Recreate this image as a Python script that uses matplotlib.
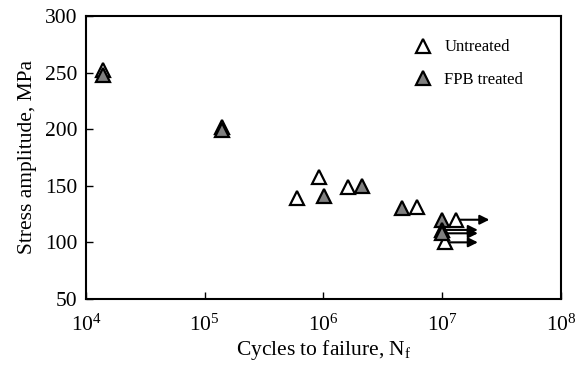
import matplotlib
matplotlib.use('Agg')
import matplotlib.pyplot as plt

# untreated specimens
untreated_n = [1.4e4, 1.4e5, 6.0e5, 9.1e5, 1.6e6, 6.1e6]
untreated_s = [252, 202, 139, 158, 149, 131]
# treated specimens
treated_n = [1.4e4, 1.4e5, 1.02e6, 2.1e6, 4.6e6, 1.0e7]
treated_s = [248, 199, 141, 150, 130, 120]

# run-outs (no failure): start cycles, stress, arrow end
runout_untreated_n = [1.3e7, 1.05e7]
runout_untreated_s = [120, 100]
runout_untreated_end = [2.5e7, 2.0e7]
runout_treated_n = [1.0e7, 1.0e7]
runout_treated_s = [111, 108]
runout_treated_end = [2.0e7, 2.0e7]

plt.rcParams['font.family'] = 'Liberation Serif'
plt.rcParams['mathtext.fontset'] = 'stix'

fig = plt.figure(figsize=(5.77, 3.65), dpi=100)
ax = fig.add_axes([0.149, 0.181, 0.823, 0.775])

for x0, y, x1 in zip(runout_untreated_n + runout_treated_n,
                     runout_untreated_s + runout_treated_s,
                     runout_untreated_end + runout_treated_end):
    ax.annotate('', xy=(x1, y), xytext=(x0, y),
                arrowprops=dict(arrowstyle='-|>', color='black', lw=1.5,
                                mutation_scale=14, shrinkA=0, shrinkB=0))

ax.plot(untreated_n + runout_untreated_n, untreated_s + runout_untreated_s, '^', ms=10.5,
        mfc='white', mec='black', mew=1.6, label='Untreated', ls='none', zorder=3)
ax.plot(treated_n + runout_treated_n, treated_s + runout_treated_s, '^', ms=10.5,
        mfc='#808080', mec='black', mew=1.6, label='FPB treated', ls='none', zorder=4)

ax.set_xscale('log')
ax.set_xlim(1e4, 1e8)
ax.set_ylim(50, 300)
ax.set_yticks([50, 100, 150, 200, 250, 300])
ax.set_xticks([1e4, 1e5, 1e6, 1e7, 1e8])
ax.minorticks_off()
ax.tick_params(direction='in', length=5, width=1, labelsize=15.5, pad=6)
ax.tick_params(axis='x', pad=11)
for sp in ax.spines.values():
    sp.set_linewidth(1.5)

ax.set_xlabel('Cycles to failure, N$_\\mathregular{f}$', fontsize=15.5, labelpad=2)
ax.set_ylabel('Stress amplitude, MPa', fontsize=15.5, labelpad=6)

ax.legend(loc='upper right', frameon=False, fontsize=12,
          handletextpad=0.8, labelspacing=1.0, borderaxespad=1.0,
          handlelength=1.0, bbox_to_anchor=(0.97, 1.0))

fig.savefig('out.png', dpi=100)
